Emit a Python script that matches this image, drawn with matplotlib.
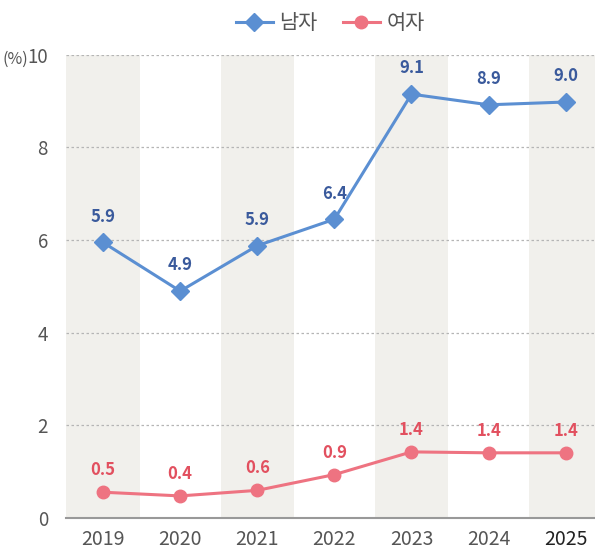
import matplotlib
matplotlib.use("Agg")
import matplotlib.pyplot as plt
from matplotlib.lines import Line2D

plt.rcParams['font.family'] = ['Noto Sans CJK KR', 'DejaVu Sans']

years = ['2019', '2020', '2021', '2022', '2023', '2024', '2025']
men = [5.95, 4.9, 5.88, 6.45, 9.15, 8.92, 8.98]
men_labels = ['5.9', '4.9', '5.9', '6.4', '9.1', '8.9', '9.0']
women = [0.56, 0.48, 0.6, 0.94, 1.43, 1.41, 1.41]
women_labels = ['0.5', '0.4', '0.6', '0.9', '1.4', '1.4', '1.4']
yticks = [0, 2, 4, 6, 8, 10]
ytick_labels = ['0', '2', '4', '6', '8', '10']
unit_label = '(%)'

men_line = '#5b8fd2'
men_text = '#3a5a9c'
women_line = '#ee7381'
women_text = '#e2505f'

fig = plt.figure(figsize=(5.95, 5.53), dpi=100)
ax = fig.add_axes([0.111, 0.063, 0.889, 0.838])

x = list(range(len(years)))
for i in x:
    if i % 2 == 0:
        ax.axvspan(i - 0.475, i + 0.475, color='#f1f0ec', zorder=0, lw=0)

for t in yticks[1:]:
    ax.axhline(t, color='#b5b5b5', lw=0.9, ls=(0, (2, 2)), zorder=1)

ax.plot(x, men, color=men_line, lw=2.2, marker='D', ms=9, zorder=3)
ax.plot(x, women, color=women_line, lw=2.2, marker='o', ms=9, zorder=3)

for i in x:
    ax.text(i, men[i] + 0.36, men_labels[i], ha='center', va='bottom',
            fontsize=12, color=men_text, fontweight='bold')
    ax.text(i, women[i] + 0.28, women_labels[i], ha='center', va='bottom',
            fontsize=12, color=women_text, fontweight='bold')

ax.set_xlim(-0.48, 6.38)
ax.set_ylim(0, 10)
ax.set_xticks(x)
ax.set_xticklabels(years, fontsize=14, color='#555555')
ax.get_xticklabels()[-1].set_color('#222222')
ax.set_yticks(yticks)
ax.set_yticklabels(ytick_labels, fontsize=13.5, color='#555555')
ax.tick_params(length=0, pad=8)
ax.tick_params(axis='y', pad=13)
ax.text(-0.072, 0.99, unit_label, transform=ax.transAxes, ha='right', va='center',
        fontsize=11.5, color='#555555')
for s in ['top', 'right', 'left']:
    ax.spines[s].set_visible(False)
ax.spines['bottom'].set_color('#999999')
ax.spines['bottom'].set_linewidth(1.5)

handles = [Line2D([], [], color=men_line, lw=2.2, marker='D', ms=9),
           Line2D([], [], color=women_line, lw=2.2, marker='o', ms=9)]
fig.legend(handles, ['남자', '여자'], loc='center', bbox_to_anchor=(0.555, 0.958),
           ncol=2, frameon=False, handlelength=1.8, columnspacing=1.2,
           handletextpad=0.3, labelcolor='#555555', prop={'size': 15})

fig.savefig('out.png', dpi=100)
